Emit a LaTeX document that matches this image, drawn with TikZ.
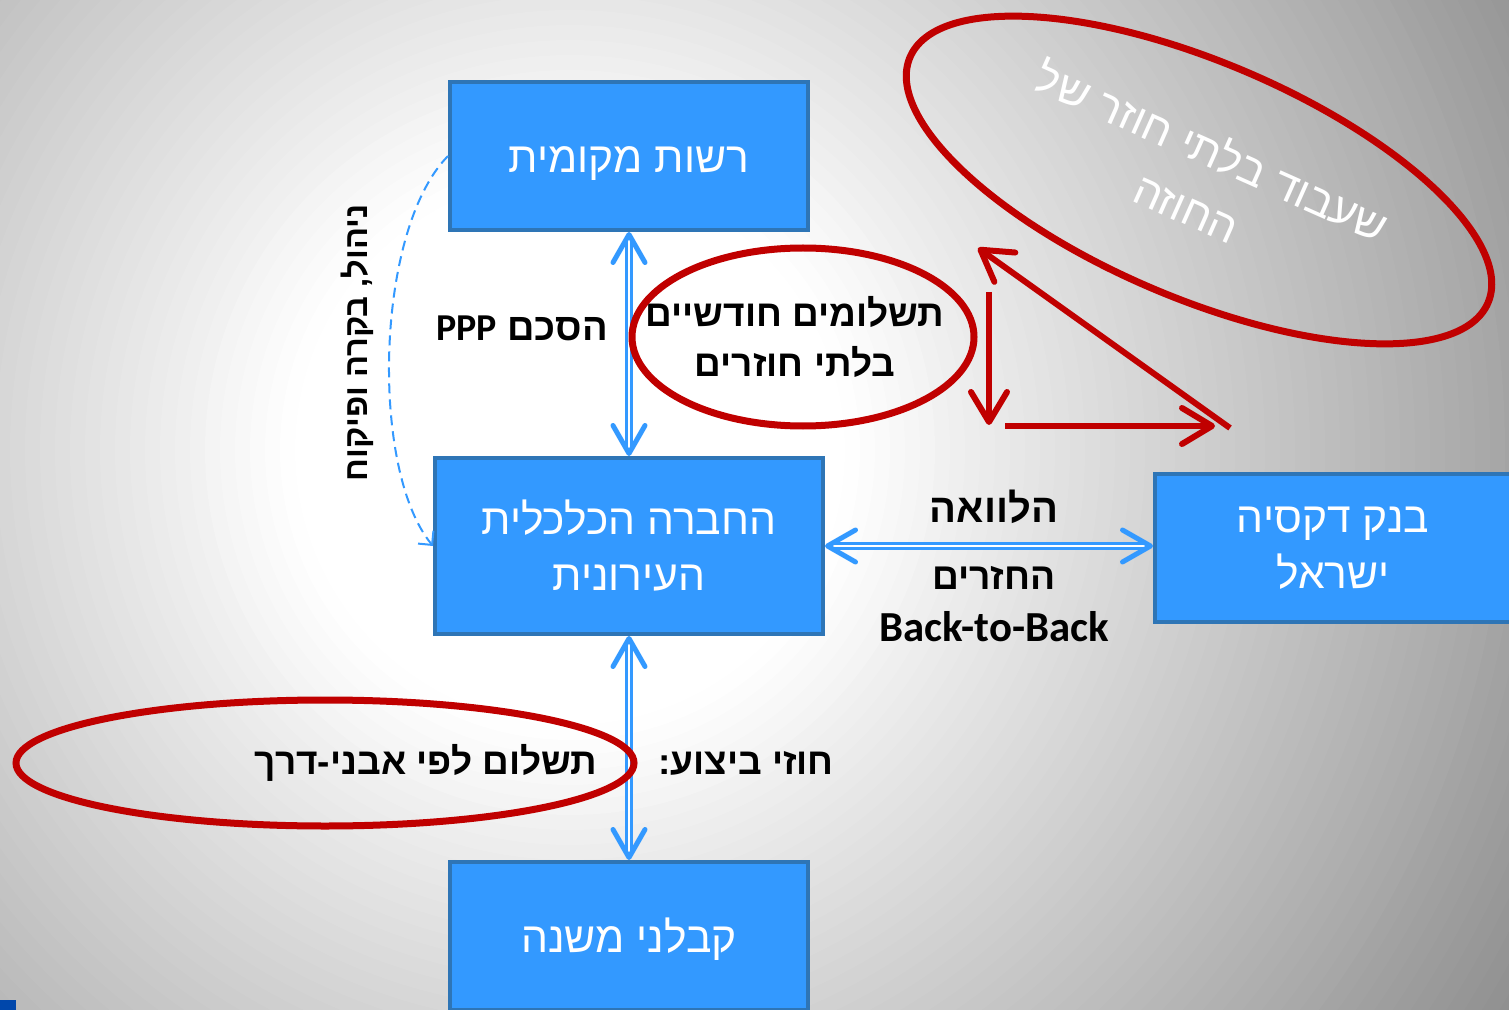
\documentclass[tikz,border=0pt]{standalone}
\usepackage{fontspec}
\setmainfont{Liberation Sans}
\newfontfamily\hebfont[Script=Hebrew]{Liberation Sans}
\newfontfamily\latfont{Carlito}
\TeXXeTstate=1
\usetikzlibrary{shapes, positioning, arrows.meta}

\definecolor{boxblue}{RGB}{51,153,255}
\definecolor{boxedge}{RGB}{46,117,182}
\definecolor{ringred}{RGB}{192,0,0}
\definecolor{cornerblue}{RGB}{0,71,171}

\newcommand{\hebline}[1]{\beginR#1\endR}

\tikzset{
  box/.style={rectangle, draw=boxedge, fill=boxblue, line width=2pt, text=white, align=center,
    font=\hebfont\fontsize{21.3}{28}\selectfont},
  oneline/.style={text height=16.5pt, text depth=0pt},
  ring/.style={draw=ringred, line width=3.5pt},
  lbl/.style={align=center, font=\hebfont\bfseries\fontsize{18.5}{25}\selectfont},
  twoway/.style={draw=boxblue, line width=1.1pt, double=white, double distance=1.4pt,
    {Straight Barb[length=14pt, width=16pt, line width=2.5pt, round]}-{Straight Barb[length=14pt, width=16pt, line width=2.5pt, round]}},
  redarrow/.style={draw=ringred, line width=3pt, -{Straight Barb[length=15pt, width=18pt, line width=3pt, round]}},
  dashline/.style={draw=boxblue, line width=1pt, dash pattern=on 5pt off 3pt, -{Straight Barb[length=5pt, width=10pt]}}
}

\begin{document}
\begin{tikzpicture}[x=0.5pt, y=-0.5pt]
    \useasboundingbox (0,0) rectangle (1509,1010);
    \clip (0,0) rectangle (1509,1010);
    \fill[black!42] (0,0) rectangle (1509,1010);
    \foreach \rr in {1100,1085,...,275} {
      \pgfmathsetmacro\pp{max(0,0.053*(\rr-280))}
      \fill[black!\pp] (570,450) circle [radius=\rr*0.5pt];
    }
    \fill[cornerblue] (0,1000) rectangle (16,1010);

    \node[box, oneline, minimum width=179pt, minimum height=74pt] (local) at (629,156) {\hebline{רשות מקומית}};
    \node[box, minimum width=194pt, minimum height=88pt] (company) at (629,546) {\hebline{החברה הכלכלית}\\\hebline{העירונית}};
    \node[box, minimum width=178pt, minimum height=74pt] (bank) at (1333,548) {\hebline{בנק דקסיה}\\\hebline{ישראל}};
    \node[box, oneline, minimum width=179pt, minimum height=74pt] (subs) at (629,936) {\hebline{קבלני משנה}};

    \draw[dashline] (local.west) .. controls (375,230) and (370,470) .. (company.west);
    \draw[twoway] (local.south) -- (company.north);
    \draw[twoway] (company.south) -- (subs.north);
    \draw[twoway] (company.east) -- (company.east -| bank.west);

    \node[lbl, font=\hebfont\bfseries\fontsize{19}{25}\selectfont] (ppp) at (522,328) {\hebline{הסכם \beginL{\latfont PPP}\endL}};
    \node[lbl, rotate=90, font=\hebfont\bfseries\fontsize{16.3}{25}\selectfont] (oversee) at (357,343) {\hebline{ניהול, בקרה ופיקוח}};
    \node[lbl, font=\hebfont\bfseries\fontsize{20}{25}\selectfont] (loan) at (994,507) {\hebline{הלוואה}};
    \node[lbl, font=\hebfont\bfseries\fontsize{18.6}{26}\selectfont] (repay) at (994,604) {\hebline{החזרים}\\{\latfont\fontsize{21.4}{26}\selectfont Back-to-Back}};
    \node[lbl] (perform) at (746,763) {\hebline{חוזי ביצוע:}};
    \node[lbl] (milestone) at (426,763) {\hebline{תשלום לפי אבני-דרך}};
    \node[lbl] (monthly) at (795,337) {\hebline{תשלומים חודשיים}\\\hebline{בלתי חוזרים}};
    \node[text=white, align=center, rotate=-24, font=\hebfont\fontsize{22}{31}\selectfont] (pledge) at (1200,178) {\hebline{שעבוד בלתי חוזר של}\\\hebline{החוזה}};

    \draw[ring] (803,337) ellipse [x radius=85.5pt, y radius=44.5pt];
    \draw[ring] (325,763) ellipse [x radius=154.5pt, y radius=31.5pt];
    \draw[ring, rotate around={-23:(1199,180)}] (1199,180) ellipse [x radius=157pt, y radius=59pt];

    \coordinate (vtop) at (989,292);
    \coordinate (vbot) at (989,425);
    \coordinate (hleft) at (1005,426);
    \coordinate (hright) at (1215,426);
    \coordinate (dfrom) at (1230,428);
    \coordinate (dto) at (978,248);
    \draw[redarrow] (vtop) -- (vbot);
    \draw[redarrow] (hleft) -- (hright);
    \draw[redarrow] (dfrom) -- (dto);
\end{tikzpicture}
\end{document}
